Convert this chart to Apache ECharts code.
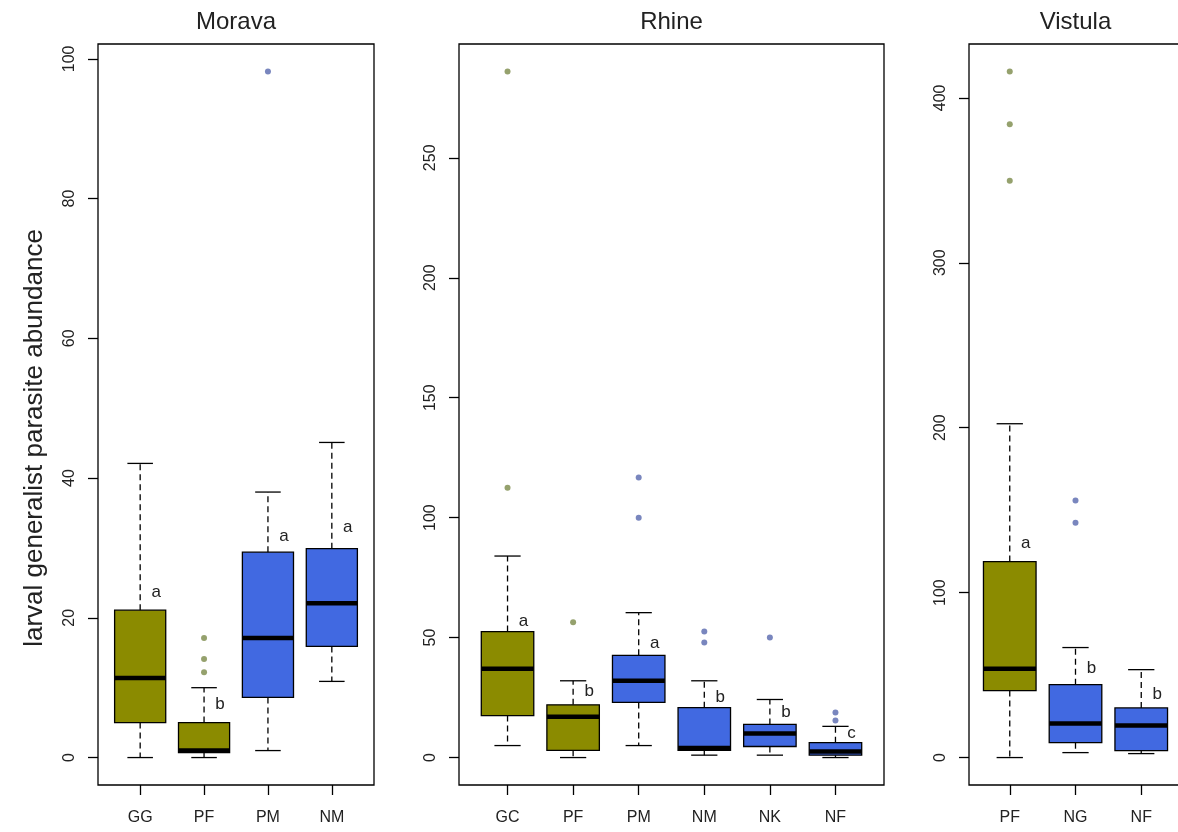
<!DOCTYPE html>
<html>
<head>
<meta charset="utf-8">
<script src="https://cdn.jsdelivr.net/npm/echarts@6/dist/echarts.min.js"></script>
<style>html,body{margin:0;padding:0;background:#fff}#c{width:1178px;height:832px}</style>
</head>
<body>
<div id="c"></div>
<script>
// ---------------- DATA ----------------
// box statistics: [lower whisker, Q1, median, Q3, upper whisker]
const moravaCats = ['GG', 'PF', 'PM', 'NM'];
const moravaGroup = ['P', 'P', 'N', 'N'];
const moravaStats = [
  [0, 5.0, 11.4, 21.1, 42.1],
  [0, 0.7, 1.0, 5.0, 10.0],
  [1.0, 8.6, 17.1, 29.4, 38.0],
  [10.9, 15.9, 22.1, 29.9, 45.1]
];
const moravaOutliers = [[2, 17.1], [2, 14.1], [2, 12.2], [3, 98.2]]; // [category number, value]
const moravaLetters = ['a', 'b', 'a', 'a'];
const moravaLetterY = [23.7, 7.6, 31.7, 32.9];
const moravaTicks = [0, 20, 40, 60, 80, 100];

const rhineCats = ['GC', 'PF', 'PM', 'NM', 'NK', 'NF'];
const rhineGroup = ['P', 'P', 'N', 'N', 'N', 'N'];
const rhineStats = [
  [5, 17.5, 37, 52.5, 84],
  [0, 3, 17, 22, 32],
  [5, 23, 32, 42.6, 60.4],
  [1, 3, 4, 20.8, 32],
  [1, 4.6, 10, 13.8, 24.2],
  [0, 1, 2.5, 6.2, 13]
];
const rhineOutliers = [[1, 286], [1, 112.5], [2, 56.4], [3, 100], [3, 116.7], [4, 52.5], [4, 48], [5, 50], [6, 18.8], [6, 15.4]];
const rhineLetters = ['a', 'b', 'a', 'b', 'b', 'c'];
const rhineLetterY = [56.7, 27.5, 47.5, 25, 18.7, 10.3];
const rhineTicks = [0, 50, 100, 150, 200, 250];

const vistulaCats = ['PF', 'NG', 'NF'];
const vistulaGroup = ['P', 'N', 'N'];
const vistulaStats = [
  [0, 40.6, 53.9, 118.8, 202.4],
  [3, 9, 20.6, 44.2, 66.7],
  [2.4, 4.2, 19.4, 30.1, 53.3]
];
const vistulaOutliers = [[1, 416], [1, 384], [1, 349.7], [2, 155.8], [2, 142.4]];
const vistulaLetters = ['a', 'b', 'b'];
const vistulaLetterY = [129.7, 53.9, 38.2];
const vistulaTicks = [0, 100, 200, 300, 400];

const panelTitles = ['Morava', 'Rhine', 'Vistula'];
const yTitle = 'larval generalist parasite abundance';

// ---------------- STYLE ----------------
const OLIVE = '#8B8B00';
const BLUE = '#4169E1';
const OLIVE_PT = '#7A8A48';
const BLUE_PT = '#5868AE';
const TXT = '#222';
const FONT = '"Liberation Sans", Arial, Helvetica, sans-serif';

const panels = [
  { cats: moravaCats, group: moravaGroup, stats: moravaStats, out: moravaOutliers, letters: moravaLetters, letterY: moravaLetterY, ticks: moravaTicks, grid: { left: 98, top: 44, width: 276, height: 741 } },
  { cats: rhineCats, group: rhineGroup, stats: rhineStats, out: rhineOutliers, letters: rhineLetters, letterY: rhineLetterY, ticks: rhineTicks, grid: { left: 459, top: 44, width: 425, height: 741 } },
  { cats: vistulaCats, group: vistulaGroup, stats: vistulaStats, out: vistulaOutliers, letters: vistulaLetters, letterY: vistulaLetterY, ticks: vistulaTicks, grid: { left: 969, top: 44, width: 213, height: 741 } }
];

function renderBox(params, api) {
  const x = api.value(0);
  const v = [1, 2, 3, 4, 5].map(i => api.value(i));
  const isP = api.value(6) === 1;
  const half = api.size([0.4, 0])[0];
  const capHalf = half / 2;
  const cx = api.coord([x, v[2]])[0];
  const y = v.map(val => api.coord([x, val])[1]);
  const dash = { stroke: '#000', lineWidth: 1.3, lineDash: [6, 4] };
  const solid = { stroke: '#000', lineWidth: 1.3 };
  return {
    type: 'group',
    children: [
      { type: 'line', shape: { x1: cx, y1: y[3], x2: cx, y2: y[4] }, style: dash },
      { type: 'line', shape: { x1: cx, y1: y[1], x2: cx, y2: y[0] }, style: dash },
      { type: 'line', shape: { x1: cx - capHalf, y1: y[4], x2: cx + capHalf, y2: y[4] }, style: solid },
      { type: 'line', shape: { x1: cx - capHalf, y1: y[0], x2: cx + capHalf, y2: y[0] }, style: solid },
      { type: 'rect', shape: { x: cx - half, y: y[3], width: 2 * half, height: y[1] - y[3] }, style: { fill: isP ? OLIVE : BLUE, stroke: '#000', lineWidth: 1.3 } },
      { type: 'line', shape: { x1: cx - half, y1: y[2], x2: cx + half, y2: y[2] }, style: { stroke: '#000', lineWidth: 4.5 } }
    ]
  };
}

const grids = [], xAxes = [], yAxes = [], series = [], graphics = [];

panels.forEach((p, i) => {
  const n = p.cats.length;
  const allVals = p.stats.flat().concat(p.out.map(o => o[1]));
  const lo = Math.min(...allVals), hi = Math.max(...allVals);
  const ext = (hi - lo) * 0.04;
  const pos = p.cats.map((c, k) => k + 1);

  grids.push(Object.assign({ show: true, borderColor: '#000', borderWidth: 1.3, backgroundColor: 'transparent', outerBoundsMode: 'none', containLabel: false }, p.grid));

  xAxes.push({
    gridIndex: i, type: 'value', min: 0.5 - 0.04 * n, max: n + 0.5 + 0.04 * n,
    splitLine: { show: false },
    axisLine: { show: false, onZero: false },
    axisTick: { show: true, customValues: pos, length: 10, inside: false, lineStyle: { color: '#000', width: 1.3 } },
    axisLabel: { show: true, customValues: pos, formatter: val => p.cats[Math.round(val) - 1] || '', fontSize: 16, color: TXT, fontFamily: FONT, margin: 25 }
  });

  yAxes.push({
    gridIndex: i, type: 'value', min: lo - ext, max: hi + ext,
    splitLine: { show: false },
    axisLine: { show: false, onZero: false },
    axisTick: { show: true, customValues: p.ticks, length: 10, lineStyle: { color: '#000', width: 1.3 } },
    axisLabel: { show: true, customValues: p.ticks, rotate: 90, fontSize: 16, color: TXT, fontFamily: FONT, margin: 20 }
  });

  series.push({
    type: 'custom', xAxisIndex: i, yAxisIndex: i,
    renderItem: renderBox,
    encode: { x: 0, y: [1, 2, 3, 4, 5] },
    data: p.stats.map((s, k) => [k + 1].concat(s).concat([p.group[k] === 'P' ? 1 : 0])),
    silent: true, z: 2
  });

  series.push({
    type: 'scatter', xAxisIndex: i, yAxisIndex: i,
    symbol: 'circle', symbolSize: 6,
    itemStyle: { color: params => (p.group[params.value[0] - 1] === 'P' ? OLIVE_PT : BLUE_PT) },
    data: p.out, silent: true, z: 3
  });

  series.push({
    type: 'custom', xAxisIndex: i, yAxisIndex: i,
    renderItem: (params, api) => {
      const pt = api.coord([api.value(0), api.value(1)]);
      return { type: 'text', x: pt[0] + 16, y: pt[1], style: { text: p.letters[params.dataIndex], fill: TXT, font: '17px ' + FONT, align: 'center', verticalAlign: 'middle' } };
    },
    encode: { x: 0, y: 1 },
    data: p.letterY.map((v, k) => [k + 1, v]),
    silent: true, z: 4
  });

  graphics.push({
    type: 'text', x: p.grid.left + p.grid.width / 2, y: 22,
    style: { text: panelTitles[i], fill: TXT, font: '24px ' + FONT, align: 'center', verticalAlign: 'middle' }
  });
});

graphics.push({
  type: 'text', x: 35, y: 438, rotation: Math.PI / 2,
  style: { text: yTitle, fill: TXT, font: '26px ' + FONT, align: 'center', verticalAlign: 'middle' }
});

const chart = echarts.init(document.getElementById('c'), null, { renderer: 'canvas' });
chart.setOption({
  backgroundColor: '#fff',
  animation: false,
  grid: grids,
  xAxis: xAxes,
  yAxis: yAxes,
  series: series,
  graphic: graphics
});
</script>
</body>
</html>
